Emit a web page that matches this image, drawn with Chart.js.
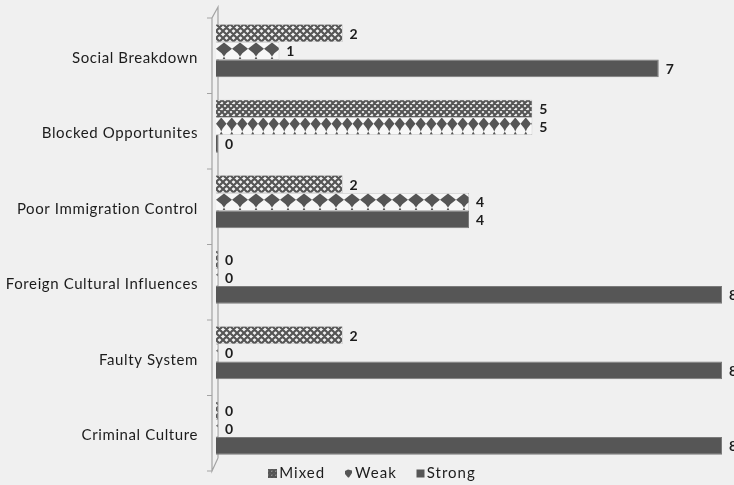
<!DOCTYPE html>
<html>
<head>
<meta charset="utf-8">
<script src="https://cdn.jsdelivr.net/npm/chart.js@4.4.1/dist/chart.umd.min.js"></script>
<style>
  html, body { margin: 0; padding: 0; background: #f0f0f0; }
  #wrap { width: 734px; height: 485px; position: relative; }
</style>
</head>
<body>
<div id="wrap"><canvas id="chart" width="734" height="485"></canvas></div>
<script>
// Categories, top to bottom
const categories = [
  'Social Breakdown',
  'Blocked Opportunites',
  'Poor Immigration Control',
  'Foreign Cultural Influences',
  'Faulty System',
  'Criminal Culture'
];
const seriesNames = ['Mixed', 'Weak', 'Strong'];
const mixedValues  = [2, 5, 2, 0, 2, 0];
const weakValues   = [1, 5, 4, 0, 0, 0];
const strongValues = [7, 0, 4, 8, 8, 8];
const axisMin = 0;
const axisMax = 8;

const FONT = 'Lato';
const TEXT = '#1c1c1c';
const STRONG_FILL = '#565656';

// ---- fill patterns -------------------------------------------------------
function tile(w, h, draw) {
  const c = document.createElement('canvas');
  c.width = w; c.height = h;
  draw(c.getContext('2d'), w, h);
  return c;
}
function mixedTile(s) {
  return tile(s, s, (g, w, h) => {
    g.fillStyle = '#f2f2f2';
    g.fillRect(0, 0, w, h);
    g.strokeStyle = '#555555';
    g.lineWidth = 2.2;
    g.beginPath();
    for (let k = -1; k <= 1; k++) {
      g.moveTo(k * w, 0); g.lineTo(k * w + w, h);
      g.moveTo(k * w + w, 0); g.lineTo(k * w, h);
    }
    g.stroke();
  });
}
function weakTile(period, reps, h) {
  const w = Math.round(period * reps);
  return tile(w, h, (g, W, H) => {
    g.fillStyle = '#f7f7f7';
    g.fillRect(0, 0, W, H);
    g.fillStyle = '#555555';
    const p = W / reps;
    for (let i = 0; i < reps; i++) {
      const cx = p * i + p / 2;
      const hw = p * 0.5;
      g.beginPath();
      g.moveTo(cx, 0.5);
      g.lineTo(cx + hw, H * 0.38);
      g.lineTo(cx + hw * 0.3, H * 0.62);
      g.lineTo(cx, H * 0.8);
      g.lineTo(cx - hw * 0.3, H * 0.62);
      g.lineTo(cx - hw, H * 0.38);
      g.closePath();
      g.fill();
      // small tooth under each diamond
      g.beginPath();
      g.moveTo(cx - 1.6, H - 0.5);
      g.lineTo(cx + 1.6, H - 0.5);
      g.lineTo(cx, H - 3.5);
      g.closePath();
      g.fill();
    }
  });
}

const probe = document.createElement('canvas').getContext('2d');
const mixedSizes = [7, 6, 7, 7, 7, 7];
const weakPeriods = [15.8, 10.5, 15.8, 15.8, 15.8, 15.8];
const mixedPatterns = mixedSizes.map(s => probe.createPattern(mixedTile(s), 'repeat'));
const weakPatterns = weakPeriods.map(p => probe.createPattern(weakTile(p, 2, 18), 'repeat'));

// Anchor each patterned bar's fill to its own top-left corner
const patternAnchor = {
  id: 'patternAnchor',
  beforeDatasetsDraw(chart) {
    [[0, mixedPatterns], [1, weakPatterns]].forEach(([di, pats]) => {
      chart.getDatasetMeta(di).data.forEach((el, i) => {
        const top = el.y - el.height / 2;
        pats[i].setTransform(new DOMMatrix([1, 0, 0, 1, el.base, Math.round(top)]));
      });
    });
  }
};

// Slightly looser lettering for axis text
const lettering = {
  id: 'lettering',
  beforeDraw(chart) { chart.ctx.letterSpacing = '0.6px'; },
  afterDraw(chart) { chart.ctx.letterSpacing = '0px'; }
};

// Slim side wall with category ticks on the left of the bars
const sideWall = {
  id: 'sideWall',
  beforeDatasetsDraw(chart) {
    const { ctx, chartArea: a } = chart;
    const n = categories.length;
    const fx = a.left - 4, bx = a.left + 2;
    const fTop = a.top + 5, fBot = a.bottom + 5;
    const bTop = a.top - 6, bBot = a.bottom - 8;
    ctx.save();
    ctx.strokeStyle = '#a3a3a3';
    ctx.lineWidth = 1.2;
    ctx.beginPath();
    ctx.moveTo(bx, bBot); ctx.lineTo(bx, bTop); ctx.lineTo(fx, fTop);
    ctx.lineTo(fx, fBot); ctx.lineTo(bx, bBot);
    const step = (fBot - fTop) / n;
    for (let k = 0; k <= n; k++) {
      const y = fTop + k * step;
      ctx.moveTo(fx - 5, y); ctx.lineTo(fx, y);
    }
    ctx.stroke();
    ctx.restore();
  }
};

// Value labels just past the end of each bar
const valueLabels = {
  id: 'valueLabels',
  afterDatasetsDraw(chart) {
    const { ctx } = chart;
    ctx.save();
    ctx.letterSpacing = '0px';
    ctx.font = `bold 14px ${FONT}`;
    ctx.fillStyle = TEXT;
    ctx.textAlign = 'left';
    ctx.textBaseline = 'middle';
    chart.data.datasets.forEach((ds, di) => {
      chart.getDatasetMeta(di).data.forEach((el, i) => {
        ctx.fillText(String(ds.data[i]), Math.max(el.x, el.base + 2) + 7, el.y + 1);
      });
    });
    ctx.restore();
  }
};

// Legend row under the plot
function legendIcon(name) {
  return tile(9, 9, (g) => {
    if (name === 'Mixed') {
      g.fillStyle = g.createPattern(mixedTile(4), 'repeat');
      g.fillRect(0, 0, 9, 9);
    } else if (name === 'Weak') {
      g.fillStyle = '#555555';
      g.beginPath();
      g.moveTo(1, 2); g.lineTo(4, 0.5); g.lineTo(8, 1.5); g.lineTo(8, 4);
      g.lineTo(5, 8.5); g.lineTo(4, 8.5); g.lineTo(1, 5);
      g.closePath(); g.fill();
    } else {
      g.fillStyle = STRONG_FILL;
      g.fillRect(0.5, 0.5, 8, 8);
    }
  });
}
const bottomLegend = {
  id: 'bottomLegend',
  afterDraw(chart) {
    const { ctx } = chart;
    ctx.save();
    ctx.letterSpacing = '1px';
    ctx.font = `15px ${FONT}`;
    ctx.fillStyle = TEXT;
    ctx.textBaseline = 'middle';
    const icon = 8, gap = 3, spacing = 19;
    const names = chart.data.datasets.map(d => d.label);
    const widths = names.map(t => icon + gap + ctx.measureText(t).width);
    const total = widths.reduce((s, w) => s + w, 0) + spacing * (names.length - 1);
    let x = chart.width / 2 + 5 - total / 2;
    const y = 473;
    names.forEach((t, i) => {
      ctx.drawImage(legendIcon(t), Math.round(x), Math.round(y - 4));
      ctx.fillText(t, x + icon + gap, y);
      x += widths[i] + spacing;
    });
    ctx.restore();
  }
};

new Chart(document.getElementById('chart'), {
  type: 'bar',
  data: {
    labels: categories,
    datasets: [
      { label: seriesNames[0], data: mixedValues, backgroundColor: mixedPatterns,
        borderColor: '#8a8a8a', borderWidth: 0.5 },
      { label: seriesNames[1], data: weakValues, backgroundColor: weakPatterns,
        borderColor: '#8a8a8a', borderWidth: 0.5 },
      { label: seriesNames[2], data: strongValues, backgroundColor: STRONG_FILL,
        borderColor: '#7a7a7a', borderWidth: 1 }
    ]
  },
  options: {
    indexAxis: 'y',
    responsive: false,
    animation: false,
    devicePixelRatio: 1,
    layout: { padding: { left: 0, right: 12, top: 13, bottom: 19 } },
    datasets: {
      bar: { categoryPercentage: 0.7, barPercentage: 1.0, minBarLength: 2 }
    },
    scales: {
      x: { type: 'linear', min: axisMin, max: axisMax, display: false },
      y: {
        type: 'category',
        offset: true,
        grid: { display: false, drawTicks: false },
        border: { display: false },
        ticks: {
          color: TEXT,
          font: { family: FONT, size: 15 },
          padding: 18,
          labelOffset: 7
        },
        afterFit(scale) {
          scale.width = 216;
          scale.paddingTop = 0;
          scale.paddingBottom = 0;
        }
      }
    },
    plugins: {
      legend: { display: false },
      tooltip: { enabled: false }
    }
  },
  plugins: [lettering, sideWall, patternAnchor, valueLabels, bottomLegend]
});
</script>
</body>
</html>
